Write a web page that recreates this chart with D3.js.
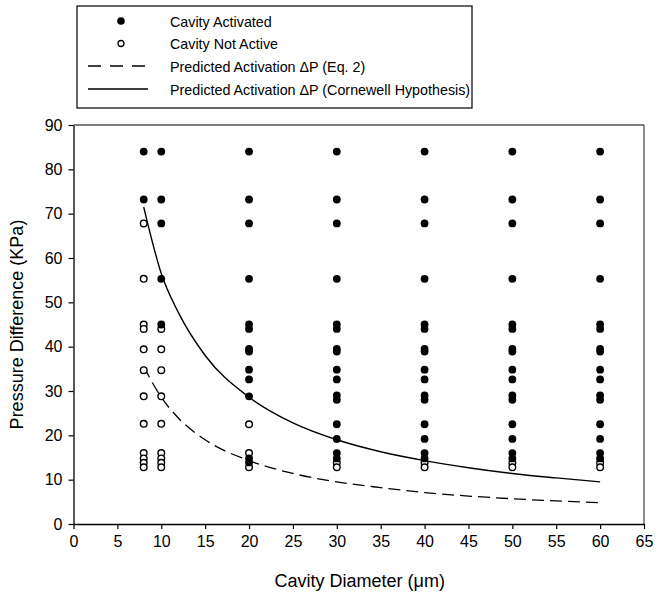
<!DOCTYPE html>
<html>
<head>
<meta charset="utf-8">
<script src="https://cdn.jsdelivr.net/npm/d3@7"></script>
<style>
  html, body { margin: 0; padding: 0; background: #fff; }
  svg { display: block; font-family: "Liberation Sans", Arial, sans-serif; }
</style>
</head>
<body>
<svg id="chart" width="663" height="594"></svg>
<script>
// ---- Data ----
const diameters = [8, 10, 20, 30, 40, 50, 60];

// pressure values (kPa) per diameter column, activated (filled)
const activated8  = [84, 73.2];
const activated10 = [84, 73.2, 67.8, 55.3, 45];
const activated20 = [84, 73.2, 67.8, 55.3, 45, 44, 39.5, 38.9, 34.8, 32.6, 28.8, 14.8, 13.9];
const activated30 = [84, 73.2, 67.8, 55.3, 45, 44, 39.5, 38.9, 34.8, 32.6, 29, 28, 22.5, 19.2, 16, 14.8];
const activated40 = [84, 73.2, 67.8, 55.3, 45, 44, 39.5, 38.9, 34.8, 32.6, 29, 28, 22.5, 19.2, 16, 14.8];
const activated50 = [84, 73.2, 67.8, 55.3, 45, 44, 39.5, 38.9, 34.8, 32.6, 29, 28, 22.5, 19.2, 16, 14.8];
const activated60 = [84, 73.2, 67.8, 55.3, 45, 44, 39.5, 38.9, 34.8, 32.6, 29, 28, 22.5, 19.2, 16, 14.8];

// not active (open)
const inactive8  = [67.8, 55.3, 45, 44, 39.4, 34.7, 28.8, 22.6, 16, 14.8, 13.8, 12.8];
const inactive10 = [44, 39.4, 34.7, 28.8, 22.6, 16, 14.8, 13.8, 12.8];
const inactive20 = [22.5, 16, 12.8];
const inactive30 = [13.8, 12.8];
const inactive40 = [13.8, 12.8];
const inactive50 = [13.8, 12.8];
const inactive60 = [13.8, 12.8];

// Predicted curves
const curveD        = [8, 10, 12, 15, 20, 25, 30, 35, 40, 45, 50, 55, 60];
const cornwellP     = [71.5, 56.5, 47.5, 38, 28.6, 22.8, 19, 16.3, 14.3, 12.7, 11.4, 10.4, 9.5];
const eq2P          = [35.5, 28.6, 23.8, 19, 14.3, 11.4, 9.5, 8.2, 7.1, 6.3, 5.7, 5.2, 4.8];

const xTicks = [0, 5, 10, 15, 20, 25, 30, 35, 40, 45, 50, 55, 60, 65];
const yTicks = [0, 10, 20, 30, 40, 50, 60, 70, 80, 90];

const legendLabels = [
  "Cavity Activated",
  "Cavity Not Active",
  "Predicted Activation \u0394P (Eq. 2)",
  "Predicted Activation \u0394P (Cornewell Hypothesis)"
];

// ---- Build point tables ----
const activatedCols = [activated8, activated10, activated20, activated30, activated40, activated50, activated60];
const inactiveCols  = [inactive8, inactive10, inactive20, inactive30, inactive40, inactive50, inactive60];
const filledPts = [], openPts = [];
diameters.forEach((d, i) => {
  activatedCols[i].forEach(p => filledPts.push({d, p}));
  inactiveCols[i].forEach(p => openPts.push({d, p}));
});
const cornwell = curveD.map((d, i) => ({d, p: cornwellP[i]}));
const eq2 = curveD.map((d, i) => ({d, p: eq2P[i]}));

// ---- Layout ----
const svg = d3.select("#chart");
const L = 73.5, R = 644, T = 125, B = 524;
const x = d3.scaleLinear().domain([0, 65]).range([L, R]);
const y = d3.scaleLinear().domain([0, 90]).range([B, T]);

// frame
svg.append("line").attr("x1", L).attr("x2", R).attr("y1", T).attr("y2", T)
  .attr("stroke", "#000").attr("stroke-width", 1.2);
svg.append("line").attr("x1", R).attr("x2", R).attr("y1", T).attr("y2", B)
  .attr("stroke", "#444").attr("stroke-width", 1.2);

// axes
const xAxis = d3.axisBottom(x).tickValues(xTicks).tickSizeInner(5).tickSizeOuter(0).tickPadding(7);
const yAxis = d3.axisLeft(y).tickValues(yTicks).tickSizeInner(5).tickSizeOuter(0).tickPadding(6);
const gx = svg.append("g").attr("transform", `translate(0,${B})`).call(xAxis);
const gy = svg.append("g").attr("transform", `translate(${L},0)`).call(yAxis);
[gx, gy].forEach(g => {
  g.selectAll("path.domain").attr("stroke", "#000").attr("stroke-width", 1.3);
  g.selectAll(".tick line").attr("stroke", "#000").attr("stroke-width", 1.2);
  g.selectAll(".tick text").attr("fill", "#000")
    .style("font-size", "16px").style("font-family", "'Liberation Sans', Arial, sans-serif");
});

// axis titles
svg.append("text").attr("x", (L + R) / 2 + 1).attr("y", 587).attr("text-anchor", "middle")
  .style("font-size", "18px").attr("fill", "#000").text("Cavity Diameter (\u03BCm)");
svg.append("text").attr("transform", `translate(23,${(T + B) / 2}) rotate(-90)`)
  .attr("text-anchor", "middle").style("font-size", "18px").attr("fill", "#000")
  .text("Pressure Difference (KPa)");

// curves
const line = d3.line().x(d => x(d.d)).y(d => y(d.p)).curve(d3.curveMonotoneX);
svg.append("path").datum(eq2).attr("d", line).attr("fill", "none")
  .attr("stroke", "#000").attr("stroke-width", 1.3).attr("stroke-dasharray", "12,6");
svg.append("path").datum(cornwell).attr("d", line).attr("fill", "none")
  .attr("stroke", "#000").attr("stroke-width", 1.4);

// points
svg.append("g").selectAll("circle").data(openPts).join("circle")
  .attr("cx", d => x(d.d)).attr("cy", d => y(d.p)).attr("r", 3.3)
  .attr("fill", "#fff").attr("stroke", "#000").attr("stroke-width", 1.4);
svg.append("g").selectAll("circle").data(filledPts).join("circle")
  .attr("cx", d => x(d.d)).attr("cy", d => y(d.p)).attr("r", 3.9)
  .attr("fill", "#000");

// legend
const lg = svg.append("g");
lg.append("rect").attr("x", 77).attr("y", 6).attr("width", 395).attr("height", 102)
  .attr("fill", "#fff").attr("stroke", "#000").attr("stroke-width", 1.2);
const rowY = [21, 43.5, 66, 89];
lg.append("circle").attr("cx", 121).attr("cy", rowY[0]).attr("r", 3.8).attr("fill", "#000");
lg.append("circle").attr("cx", 121).attr("cy", rowY[1]).attr("r", 3)
  .attr("fill", "#fff").attr("stroke", "#000").attr("stroke-width", 1.3);
lg.append("line").attr("x1", 88).attr("x2", 148).attr("y1", rowY[2]).attr("y2", rowY[2])
  .attr("stroke", "#000").attr("stroke-width", 1.3).attr("stroke-dasharray", "13,9");
lg.append("line").attr("x1", 88).attr("x2", 148).attr("y1", rowY[3]).attr("y2", rowY[3])
  .attr("stroke", "#000").attr("stroke-width", 1.3);
legendLabels.forEach((t, i) => {
  lg.append("text").attr("x", 170).attr("y", rowY[i] + 5.5)
    .style("font-size", "14.3px").attr("fill", "#000").text(t);
});
</script>
</body>
</html>
